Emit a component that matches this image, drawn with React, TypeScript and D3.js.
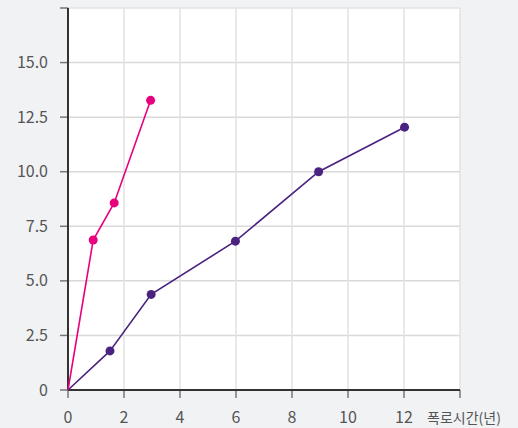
import React from "react";
import * as d3 from "d3";

const xTicks = [0, 2, 4, 6, 8, 10, 12, 14];
const yTicks = [0, 2.5, 5, 7.5, 10, 12.5, 15, 17.5];
const xTickLabels = ["0", "2", "4", "6", "8", "10", "12", ""];
const yTickLabels = ["0", "2.5", "5.0", "7.5", "10.0", "12.5", "15.0", ""];
const xTitle = "폭로시간(년)";

const pinkX = [0, 0.9, 1.65, 2.95];
const pinkY = [0, 6.87, 8.57, 13.27];
const purpleX = [0, 1.5, 2.97, 5.98, 8.95, 12.02];
const purpleY = [0, 1.79, 4.38, 6.82, 10.0, 12.04];

const W = 518, H = 428;
const M = { left: 68, right: 58, top: 8, bottom: 38 };
const FONT = "'Noto Sans CJK KR', 'Noto Sans', sans-serif";

export default function App() {
  const x = d3.scaleLinear().domain([0, 14]).range([M.left, W - M.right]);
  const y = d3.scaleLinear().domain([0, 17.5]).range([H - M.bottom, M.top]);
  const line = d3.line<[number, number]>().x(d => x(d[0])).y(d => y(d[1]));
  const pink = pinkX.map((v, i) => [v, pinkY[i]] as [number, number]);
  const purple = purpleX.map((v, i) => [v, purpleY[i]] as [number, number]);
  const x0 = x(0), y0 = y(0);
  return (
    <svg width={W} height={H} style={{ position: "absolute", left: 0, top: 0, background: "#f1f2f4" }}>
      <rect x={x0} y={y(17.5)} width={x(14) - x0} height={y0 - y(17.5)} fill="#fff" />
      {yTicks.map(t => (
        <line key={"gy" + t} x1={x0} x2={x(14)} y1={y(t)} y2={y(t)} stroke={t === 17.5 ? "#e2e3e6" : "#d9d9d9"} strokeWidth={1.5} />
      ))}
      {xTicks.map(t => (
        <line key={"gx" + t} x1={x(t)} x2={x(t)} y1={y(17.5)} y2={y0} stroke="#e2e2e2" strokeWidth={1.5} />
      ))}
      {yTicks.map((t, i) => (
        <g key={"yt" + t}>
          <line x1={x0 - 8} x2={x0} y1={y(t)} y2={y(t)} stroke="#777" strokeWidth={1.5} />
          <text x={x0 - 20} y={y(t)} dy="0.35em" textAnchor="end" fontSize={16} fill="#555" fontFamily={FONT}>{yTickLabels[i]}</text>
        </g>
      ))}
      {xTicks.map((t, i) => (
        <g key={"xt" + t}>
          <line x1={x(t)} x2={x(t)} y1={y0} y2={y0 + 8} stroke="#777" strokeWidth={1.5} />
          <text x={x(t)} y={y0 + 33} textAnchor="middle" fontSize={16} fill="#555" fontFamily={FONT}>{xTickLabels[i]}</text>
        </g>
      ))}
      <text x={427} y={y0 + 33} textAnchor="start" fontSize={14} fill="#555" fontFamily={FONT}>{xTitle}</text>
      <line x1={x0} x2={x0} y1={y(17.5)} y2={y0} stroke="#333" strokeWidth={2} />
      <line x1={x0} x2={x(14)} y1={y0} y2={y0} stroke="#333" strokeWidth={2} />
      <path d={line(purple) || ""} fill="none" stroke="#4a2381" strokeWidth={1.6} />
      <path d={line(pink) || ""} fill="none" stroke="#e8007f" strokeWidth={1.6} />
      {purple.slice(1).map((d, i) => (
        <circle key={"pc" + i} cx={x(d[0])} cy={y(d[1])} r={4.5} fill="#4a2381" />
      ))}
      {pink.slice(1).map((d, i) => (
        <circle key={"kc" + i} cx={x(d[0])} cy={y(d[1])} r={4.5} fill="#e8007f" />
      ))}
    </svg>
  );
}
